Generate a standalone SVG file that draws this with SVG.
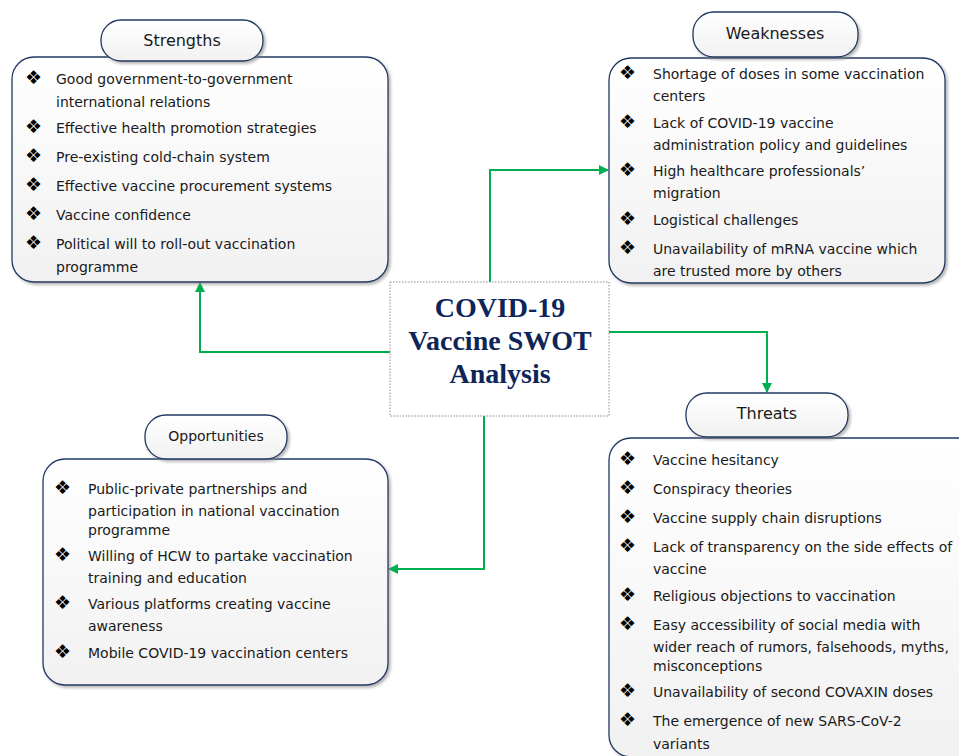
<svg xmlns="http://www.w3.org/2000/svg" width="959" height="756" viewBox="0 0 959 756">
<defs>
<linearGradient id="gBox" x1="0" y1="0" x2="0" y2="1">
<stop offset="0" stop-color="#ffffff"/>
<stop offset="1" stop-color="#f1f1f1"/>
</linearGradient>
<filter id="sh" x="-10%" y="-10%" width="120%" height="120%">
<feDropShadow dx="2" dy="2" stdDeviation="1.5" flood-color="#808080" flood-opacity="0.6"/>
</filter>
<marker id="arr" markerWidth="10" markerHeight="10" refX="9" refY="5" orient="auto" markerUnits="userSpaceOnUse">
<path d="M0,0 L10,5 L0,10 Z" fill="#00B050"/>
</marker>
</defs>
<style>
.box{fill:url(#gBox);stroke:#1F3864;stroke-width:1.3;filter:url(#sh)}
.ttl{font-family:"DejaVu Sans",Verdana,sans-serif;font-size:16px;fill:#1a1a1a;text-anchor:middle}
.t{font-family:"DejaVu Sans",Verdana,sans-serif;font-size:14px;fill:#1a1a1a}
.b{font-family:"DejaVu Sans",sans-serif;font-size:19px;fill:#000}
.con{fill:none;stroke:#00B050;stroke-width:2;marker-end:url(#arr)}
.ctr{font-family:"Liberation Serif","Times New Roman",serif;font-weight:bold;font-size:28px;fill:#0D2559;text-anchor:middle}
</style>
<rect width="959" height="756" fill="#ffffff"/>

<g id="connectors">
<path class="con" d="M390,352 H200 V283"/>
<path class="con" d="M490,282 V170 H608"/>
<path class="con" d="M609,332 H767 V392"/>
<path class="con" d="M484,416 V569 H389"/>
</g>

<g id="center">
<rect x="390" y="282" width="219" height="134" fill="#ffffff" stroke="#8a8a8a" stroke-width="1" stroke-dasharray="1.5,1.5"/>
<text class="ctr" x="500" y="317">COVID-19</text>
<text class="ctr" x="500" y="350">Vaccine SWOT</text>
<text class="ctr" x="500" y="383">Analysis</text>
</g>

<g id="strengths">
<rect class="box" x="12" y="57" width="376" height="225" rx="22"/>
<rect class="box" x="101" y="20" width="162" height="41" rx="20"/>
<text class="ttl" x="182" y="46">Strengths</text>
<text class="b" x="25" y="84">❖</text><text class="t" x="56" y="84">Good government-to-government</text>
<text class="t" x="56" y="107">international relations</text>
<text class="b" x="25" y="133">❖</text><text class="t" x="56" y="133">Effective health promotion strategies</text>
<text class="b" x="25" y="162">❖</text><text class="t" x="56" y="162">Pre-existing cold-chain system</text>
<text class="b" x="25" y="191">❖</text><text class="t" x="56" y="191">Effective vaccine procurement systems</text>
<text class="b" x="25" y="220">❖</text><text class="t" x="56" y="220">Vaccine confidence</text>
<text class="b" x="25" y="249">❖</text><text class="t" x="56" y="249">Political will to roll-out vaccination</text>
<text class="t" x="56" y="272">programme</text>
</g>

<g id="weaknesses">
<rect class="box" x="609" y="58" width="336" height="225" rx="22"/>
<rect class="box" x="693" y="12" width="165" height="45" rx="21"/>
<text class="ttl" x="775" y="39">Weaknesses</text>
<text class="b" x="619" y="79">❖</text><text class="t" x="653" y="79">Shortage of doses in some vaccination</text>
<text class="t" x="653" y="101">centers</text>
<text class="b" x="619" y="128">❖</text><text class="t" x="653" y="128">Lack of COVID-19 vaccine</text>
<text class="t" x="653" y="150">administration policy and guidelines</text>
<text class="b" x="619" y="176">❖</text><text class="t" x="653" y="176">High healthcare professionals’</text>
<text class="t" x="653" y="198">migration</text>
<text class="b" x="619" y="225">❖</text><text class="t" x="653" y="225">Logistical challenges</text>
<text class="b" x="619" y="254">❖</text><text class="t" x="653" y="254">Unavailability of mRNA vaccine which</text>
<text class="t" x="653" y="276">are trusted more by others</text>
</g>

<g id="threats">
<rect class="box" x="609" y="438" width="370" height="319" rx="22"/>
<rect class="box" x="686" y="393" width="162" height="44" rx="21"/>
<text class="ttl" x="767" y="419">Threats</text>
<text class="b" x="619" y="465">❖</text><text class="t" x="653" y="465">Vaccine hesitancy</text>
<text class="b" x="619" y="494">❖</text><text class="t" x="653" y="494">Conspiracy theories</text>
<text class="b" x="619" y="523">❖</text><text class="t" x="653" y="523">Vaccine supply chain disruptions</text>
<text class="b" x="619" y="552">❖</text><text class="t" x="653" y="552">Lack of transparency on the side effects of</text>
<text class="t" x="653" y="574">vaccine</text>
<text class="b" x="619" y="601">❖</text><text class="t" x="653" y="601">Religious objections to vaccination</text>
<text class="b" x="619" y="630">❖</text><text class="t" x="653" y="630">Easy accessibility of social media with</text>
<text class="t" x="653" y="652">wider reach of rumors, falsehoods, myths,</text>
<text class="t" x="653" y="671">misconceptions</text>
<text class="b" x="619" y="697">❖</text><text class="t" x="653" y="697">Unavailability of second COVAXIN doses</text>
<text class="b" x="619" y="726">❖</text><text class="t" x="653" y="726">The emergence of new SARS-CoV-2</text>
<text class="t" x="653" y="749">variants</text>
</g>

<g id="opportunities">
<rect class="box" x="43" y="459" width="345" height="226" rx="22"/>
<rect class="box" x="145" y="415" width="142" height="44" rx="21"/>
<text class="ttl" x="216" y="441" style="font-size:14px">Opportunities</text>
<text class="b" x="54" y="494">❖</text><text class="t" x="88" y="494">Public-private partnerships and</text>
<text class="t" x="88" y="516">participation in national vaccination</text>
<text class="t" x="88" y="535">programme</text>
<text class="b" x="54" y="561">❖</text><text class="t" x="88" y="561">Willing of HCW to partake vaccination</text>
<text class="t" x="88" y="583">training and education</text>
<text class="b" x="54" y="609">❖</text><text class="t" x="88" y="609">Various platforms creating vaccine</text>
<text class="t" x="88" y="631">awareness</text>
<text class="b" x="54" y="658">❖</text><text class="t" x="88" y="658">Mobile COVID-19 vaccination centers</text>
</g>
</svg>
